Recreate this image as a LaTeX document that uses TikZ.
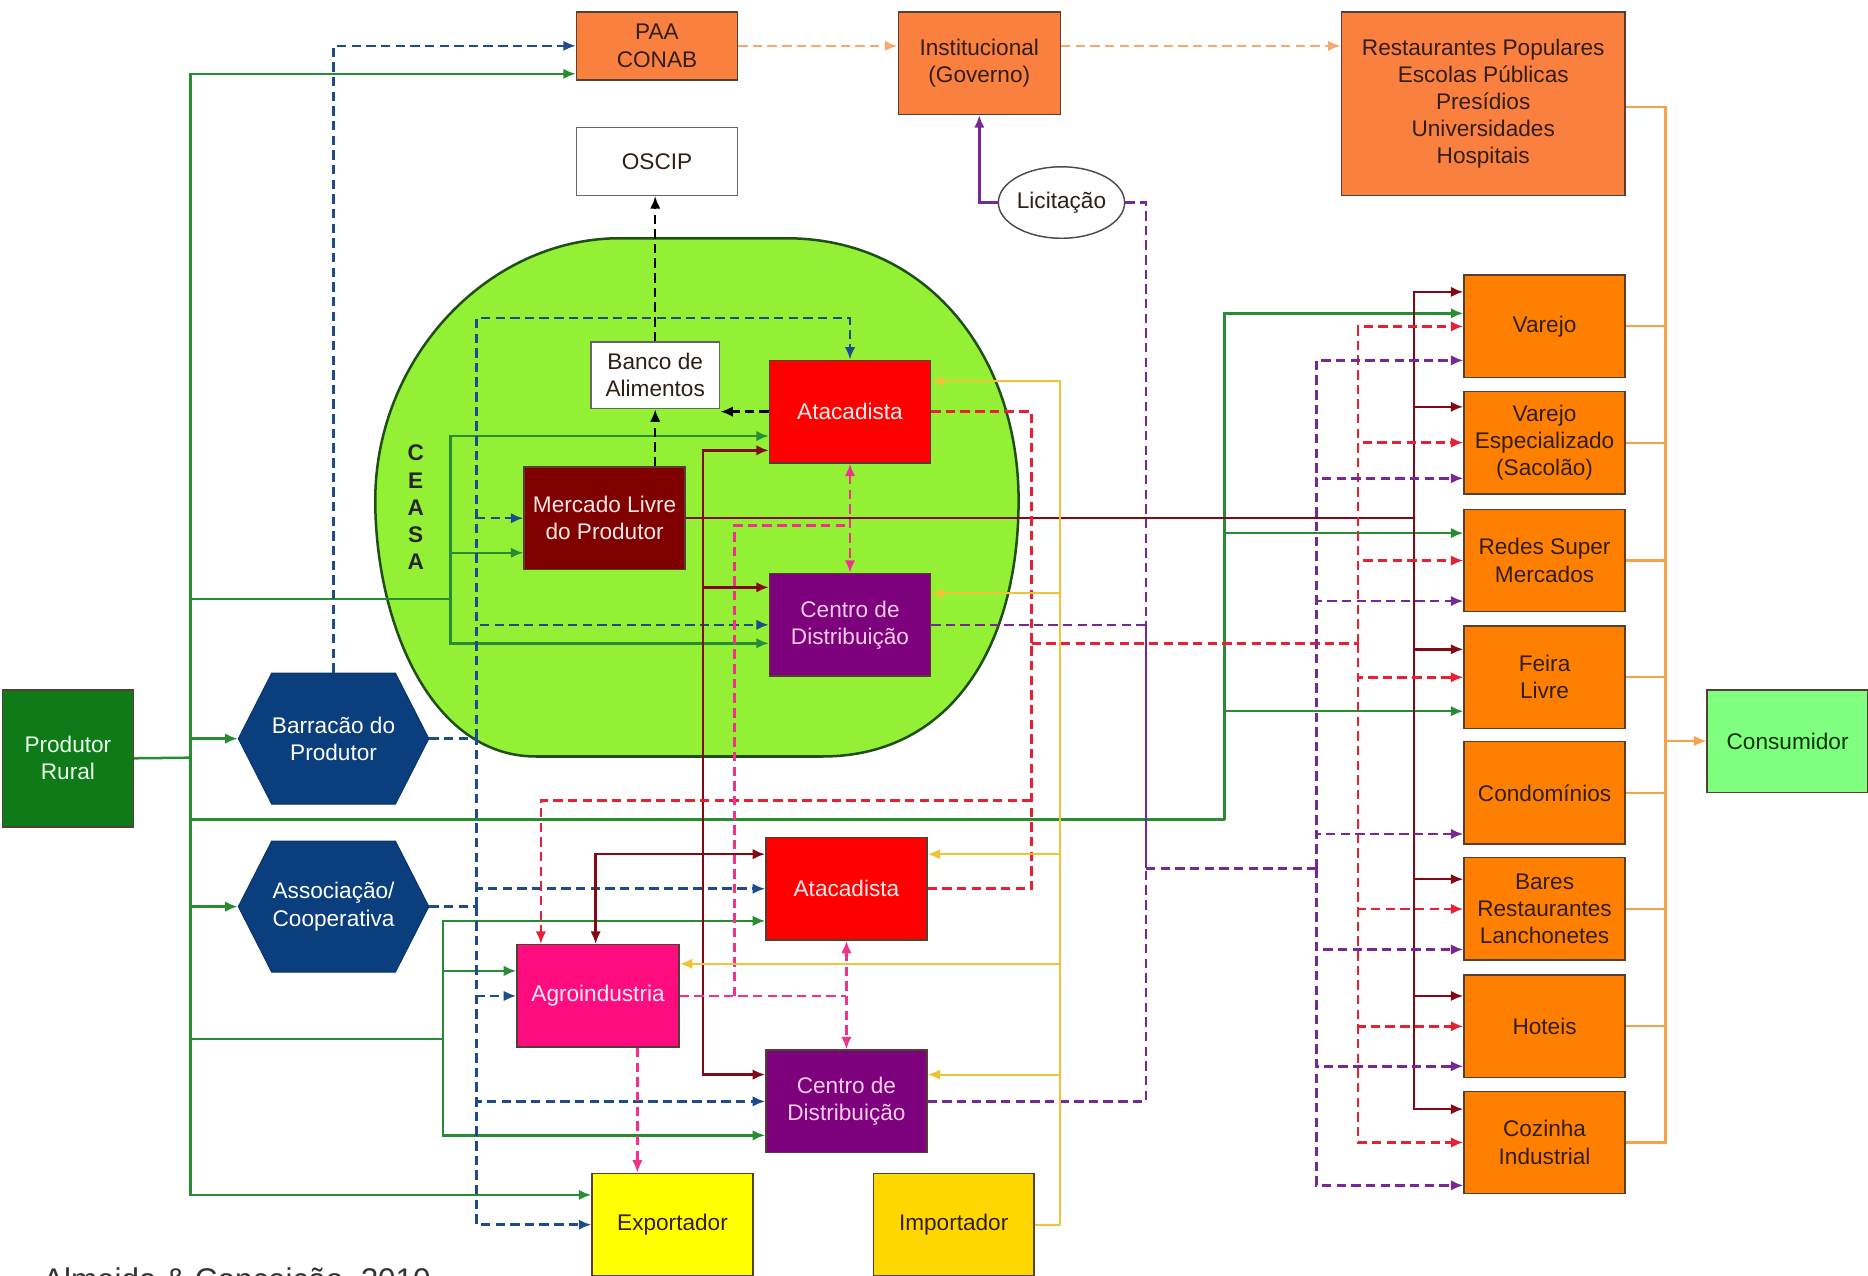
\documentclass[tikz,border=0pt]{standalone}
\usepackage{xcolor}
\usepackage{fontspec}
\setmainfont{Liberation Sans}
\usepackage{tikz}
\usetikzlibrary{arrows.meta,calc,shapes.symbols,shapes.geometric}

\definecolor{prodgreen}{RGB}{14,122,24}
\definecolor{linegreen}{RGB}{40,140,52}
\definecolor{ceasafill}{RGB}{148,240,52}
\definecolor{ceasaedge}{RGB}{30,80,22}
\definecolor{hexblue}{RGB}{10,62,125}
\definecolor{dashblue}{RGB}{30,75,140}
\definecolor{mercfill}{RGB}{128,0,0}
\definecolor{maroonline}{RGB}{130,10,22}
\definecolor{atared}{RGB}{255,0,0}
\definecolor{cdpurple}{RGB}{125,0,125}
\definecolor{agropink}{RGB}{255,12,128}
\definecolor{expyellow}{RGB}{255,255,0}
\definecolor{impgold}{RGB}{255,215,0}
\definecolor{retorange}{RGB}{255,128,0}
\definecolor{govorange}{RGB}{250,128,64}
\definecolor{consgreen}{RGB}{128,255,128}
\definecolor{dashred}{RGB}{232,32,52}
\definecolor{dashpink}{RGB}{240,50,140}
\definecolor{dashpurple}{RGB}{118,40,150}
\definecolor{goldline}{RGB}{240,195,55}
\definecolor{orangeline}{RGB}{246,162,72}
\definecolor{paadash}{RGB}{244,170,110}
\definecolor{boxedge}{RGB}{85,62,50}
\definecolor{darktext}{RGB}{50,30,20}

\begin{document}
\begin{tikzpicture}[x=0.2mm,y=-0.2mm,
    font=\fontsize{10.8}{13}\selectfont,
    >={Latex[length=6pt,width=5pt]},
    box/.style={draw=boxedge, line width=0.7pt, align=center, inner sep=0pt, text=darktext, minimum width=27mm, minimum height=17.2mm},
    hexa/.style={signal, signal to=east and west, signal pointer angle=126, fill=hexblue, draw=hexblue!80!black, text=white, align=center, minimum width=32mm, minimum height=22mm, inner sep=0pt},
    gline/.style={draw=linegreen, line width=1.2pt},
    bline/.style={draw=dashblue, line width=1.2pt, dash pattern=on 4.5pt off 2.5pt},
    kline/.style={draw=black, line width=1.1pt, dash pattern=on 4.5pt off 2.5pt},
    mline/.style={draw=maroonline, line width=1.2pt},
    rline/.style={draw=dashred, line width=1.2pt, dash pattern=on 4.5pt off 2.5pt},
    pline/.style={draw=dashpink, line width=1.2pt, dash pattern=on 4.5pt off 2.5pt},
    vline/.style={draw=dashpurple, line width=1.2pt, dash pattern=on 4.5pt off 2.5pt},
    yline/.style={draw=goldline, line width=1pt},
    oline/.style={draw=orangeline, line width=1pt},
    odash/.style={draw=paadash, line width=1.2pt, dash pattern=on 4.5pt off 2.5pt}]
    \useasboundingbox (0,0) rectangle (1568,1071);

    \draw[fill=ceasafill, draw=ceasaedge, line width=1.2pt] (520,200) -- (660,200) .. controls (780,200) and (855,300) .. (855,420) .. controls (855,540) and (800,635) .. (690,635) -- (450,635) .. controls (360,635) and (315,520) .. (315,420) .. controls (315,300) and (410,200) .. (520,200) -- cycle;
    \node[font=\bfseries\fontsize{10.8}{13}\selectfont, align=center, text=black!85] (ceasa) at (349,426) {C\\E\\A\\S\\A};

    \node[box, fill=govorange, minimum height=11.4mm] (paa) at (551.5,38.5) {PAA\\CONAB};
    \node[box, fill=govorange, minimum width=27.2mm] (inst) at (822,53) {Institucional\\(Governo)};
    \node[box, fill=govorange, minimum width=47.6mm, minimum height=30.8mm] (rest) at (1245,87) {Restaurantes Populares\\Escolas Públicas\\Presídios\\Universidades\\Hospitais};
    \node[box, fill=white, draw=black!60, minimum height=11.4mm] (oscip) at (551.5,135.5) {OSCIP};
    \node[ellipse, draw=black!70, fill=white, line width=0.7pt, minimum width=21.2mm, minimum height=12mm, inner sep=0pt, text=darktext] (licit) at (891,170) {Licitação};
    \node[box, fill=white, draw=black!60, minimum width=21.6mm, minimum height=11.2mm] (banco) at (550,315) {Banco de\\Alimentos};
    \node[box, fill=atared, text=red!8] (ata1) at (713.5,345.5) {Atacadista};
    \node[box, fill=mercfill, text=red!10] (merc) at (507.5,435) {Mercado Livre\\do Produtor};
    \node[box, fill=cdpurple, text=magenta!20] (cd1) at (713.5,524.5) {Centro de\\Distribuição};

    \node[box, fill=prodgreen, text=green!8, minimum width=22mm, minimum height=23mm] (prod) at (57,636.5) {Produtor\\Rural};
    \node[hexa] (barr) at (280,620) {Barracão do\\Produtor};
    \node[hexa] (assoc) at (280,761) {Associação/\\Cooperativa};

    \node[box, fill=atared, text=red!8] (ata2) at (710.5,746) {Atacadista};
    \node[box, fill=agropink, text=magenta!8, minimum width=27.2mm] (agro) at (502,836) {Agroindustria};
    \node[box, fill=cdpurple, text=magenta!20] (cd2) at (710.5,924.5) {Centro de\\Distribuição};
    \node[box, fill=expyellow] (expo) at (564.5,1028) {Exportador};
    \node[box, fill=impgold] (impo) at (800.5,1028) {Importador};

    \node[box, fill=retorange] (varejo) at (1296.5,274) {Varejo};
    \node[box, fill=retorange] (vesp) at (1296.5,371.5) {Varejo\\Especializado\\(Sacolão)};
    \node[box, fill=retorange] (redes) at (1296.5,470.5) {Redes Super\\Mercados};
    \node[box, fill=retorange] (feira) at (1296.5,568.5) {Feira\\Livre};
    \node[box, fill=retorange] (cond) at (1296.5,665.5) {Condomínios};
    \node[box, fill=retorange] (bares) at (1296.5,763) {Bares\\Restaurantes\\Lanchonetes};
    \node[box, fill=retorange] (hoteis) at (1296.5,861.5) {Hoteis};
    \node[box, fill=retorange] (coz) at (1296.5,959) {Cozinha\\Industrial};
    \node[box, fill=consgreen, text=green!20!black] (cons) at (1500.5,622) {Consumidor};

    \node[anchor=base west, font=\fontsize{15}{18}\selectfont, text=black!80] (cite) at (30,1083) {Almeida \& Conceição, 2010};

    \coordinate [] (gt) at (160,636);
    \coordinate [] (gc) at (378,503);
    \coordinate [] (gr) at (1028,688);
    \coordinate [] (gl) at (372,872);
    \draw[gline] (prod.east) -- (gt);
    \draw[gline,->] (gt) |- ($(paa.west)+(0,23.5)$);
    \draw[gline] (gt) |- (gc);
    \draw[gline,->] (gc) |- ($(ata1.west)+(0,20.5)$);
    \draw[gline,->] (gc) |- ($(merc.west)+(0,29)$);
    \draw[gline,->] (gc) |- ($(cd1.west)+(0,15.5)$);
    \draw[gline,->] (gt) |- (barr.west);
    \draw[gline] (gt) |- (gr);
    \draw[gline,->] (gr) |- ($(varejo.west)+(0,-11)$);
    \draw[gline,->] (gr) |- ($(redes.west)+(0,-23)$);
    \draw[gline,->] (gr) |- ($(feira.west)+(0,28.5)$);
    \draw[gline,->] (gt) |- (assoc.west);
    \draw[gline] (gt) |- (gl);
    \draw[gline,->] (gl) |- ($(ata2.west)+(0,27)$);
    \draw[gline,->] (gl) |- ($(agro.west)+(0,-21)$);
    \draw[gline,->] (gl) |- ($(cd2.west)+(0,28.5)$);
    \draw[gline,->] (gt) |- ($(expo.west)+(0,-25)$);

    \coordinate [] (bt) at (400,620);
    \coordinate [] (bb) at (400,761);
    \draw[bline,->] (barr.north) |- (paa.west);
    \draw[bline] (barr.east) -- (bt) -- (bb);
    \draw[bline] (assoc.east) -- (bb);
    \draw[bline,->] (bt) |- ($(ata1.north)+(0,-35)$) -- (ata1.north);
    \draw[bline,->] (bt) |- (merc.west);
    \draw[bline,->] (bt) |- (cd1.west);
    \draw[bline,->] (bb) |- (ata2.west);
    \draw[bline,->] (bb) |- (agro.west);
    \draw[bline,->] (bb) |- (cd2.west);
    \draw[bline,->] (bb) |- (expo.west);

    \draw[kline,->] (banco.south |- merc.north) -- (banco.south);
    \draw[kline,->] (banco.north) -- (banco.north |- oscip.south);
    \draw[kline,->] (ata1.west) -- (ata1.west -| banco.east);

    \coordinate [] (mr) at (1187,435);
    \coordinate [] (ml) at (590,435);
    \coordinate [] (mj) at (590,717);
    \draw[mline] (merc.east) -- (mr);
    \draw[mline,->] (mr) |- ($(varejo.west)+(0,-29)$);
    \draw[mline,->] (mr) |- ($(vesp.west)+(0,-30)$);
    \draw[mline,->] (mr) |- ($(feira.west)+(0,-23.5)$);
    \draw[mline,->] (mr) |- ($(bares.west)+(0,-25)$);
    \draw[mline,->] (mr) |- ($(hoteis.west)+(0,-25.5)$);
    \draw[mline,->] (mr) |- ($(coz.west)+(0,-28)$);
    \draw[mline,->] (ml) |- ($(ata1.west)+(0,32.5)$);
    \draw[mline,->] (ml) |- ($(cd1.west)+(0,-31.5)$);
    \draw[mline,->] (ml) |- ($(ata2.west)+(0,-29)$);
    \draw[mline,->] (mj) -| ($(agro.north)+(-2,0)$);
    \draw[mline,->] (ml) |- ($(cd2.west)+(0,-22.5)$);

    \coordinate [] (rv) at (866,540);
    \coordinate [] (rr) at (1140,540);
    \coordinate [] (ra) at (866,672);
    \draw[rline] (ata1.east) -| (rv);
    \draw[rline] (ata2.east) -| (rv);
    \draw[rline] (rv) -- (rr);
    \draw[rline,->] (ra) -| ($(agro.north)+(-48,0)$);
    \draw[rline,->] (rr) |- (varejo.west);
    \draw[rline,->] (rr) |- (vesp.west);
    \draw[rline,->] (rr) |- (redes.west);
    \draw[rline,->] (rr) |- (feira.west);
    \draw[rline,->] (rr) |- (bares.west);
    \draw[rline,->] (rr) |- (hoteis.west);
    \draw[rline,->] (rr) |- (coz.west);

    \draw[pline,<->] (ata1.south) -- (cd1.north);
    \draw[pline,<->] (ata2.south) -- (cd2.north);
    \draw[pline] (agro.east) -- (agro.east -| ata2.south);
    \draw[pline] ($(agro.east)+(46,0)$) |- ($(ata1.south)+(0,52)$);
    \draw[pline,->] ($(agro.south)+(33,0)$) -- ($(expo.north)+(-29.5,0)$);

    \coordinate [] (pv) at (962,729);
    \coordinate [] (pr) at (1105,729);
    \draw[draw=dashpurple, line width=1.2pt, ->] (licit.west) -| (inst.south);
    \draw[vline] (licit.east) -| (pv);
    \draw[vline] (cd1.east) -| (pv);
    \draw[vline] (cd2.east) -| (pv);
    \draw[vline] (pv) -- (pr);
    \draw[vline,->] (pr) |- ($(varejo.west)+(0,28.5)$);
    \draw[vline,->] (pr) |- ($(vesp.west)+(0,30)$);
    \draw[vline,->] (pr) |- ($(redes.west)+(0,34)$);
    \draw[vline,->] (pr) |- ($(cond.west)+(0,34.5)$);
    \draw[vline,->] (pr) |- ($(bares.west)+(0,34)$);
    \draw[vline,->] (pr) |- ($(hoteis.west)+(0,33.5)$);
    \draw[vline,->] (pr) |- ($(coz.west)+(0,36)$);

    \coordinate [] (yv) at (890,1028);
    \draw[yline] (impo.east) -- (yv);
    \draw[yline,->] (yv) |- ($(ata1.east)+(0,-25.5)$);
    \draw[yline,->] (yv) |- ($(cd1.east)+(0,-26.5)$);
    \draw[yline,->] (yv) |- ($(ata2.east)+(0,-29)$);
    \draw[yline,->] (yv) |- ($(agro.east)+(0,-27)$);
    \draw[yline,->] (yv) |- ($(cd2.east)+(0,-22.5)$);

    \coordinate [] (ov) at (1398,622);
    \draw[odash,->] (paa.east) -- (paa.east -| inst.west);
    \draw[odash,->] (paa.east -| inst.east) -- (paa.east -| rest.west);
    \draw[oline] ($(rest.east)+(0,3)$) -| (ov);
    \draw[oline] (varejo.east) -| (ov);
    \draw[oline] (vesp.east) -| (ov);
    \draw[oline] (redes.east) -| (ov);
    \draw[oline] (feira.east) -| (ov);
    \draw[oline] (cond.east) -| (ov);
    \draw[oline] (bares.east) -| (ov);
    \draw[oline] (hoteis.east) -| (ov);
    \draw[oline] (coz.east) -| (ov);
    \draw[oline,->] (ov) -- (cons.west);
\end{tikzpicture}
\end{document}
